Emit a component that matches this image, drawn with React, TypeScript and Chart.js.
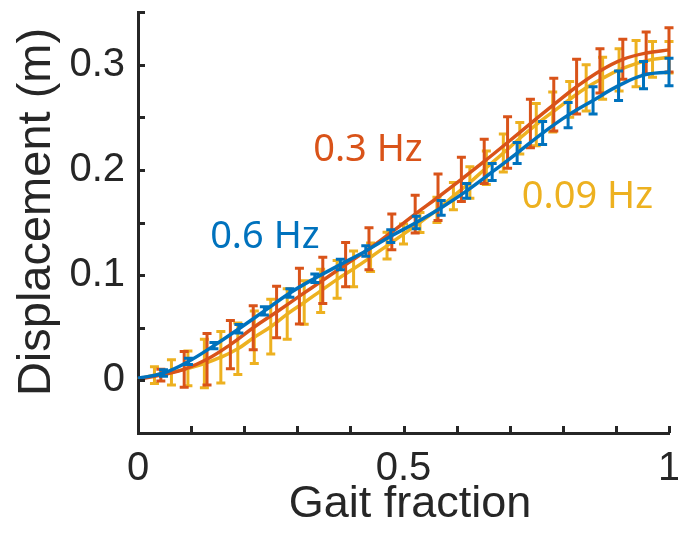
import React, { useEffect, useRef } from "react";
import { Chart, registerables } from "chart.js";

Chart.register(...registerables);

// ---- Data (gait fraction vs displacement, mean ± error) ----
const blueX = [0, 0.048, 0.095, 0.143, 0.19, 0.238, 0.286, 0.333, 0.381, 0.429, 0.476, 0.524, 0.571, 0.619, 0.667, 0.714, 0.762, 0.81, 0.857, 0.905, 0.952, 1.0];
const blueY = [0.002, 0.007, 0.018, 0.033, 0.049, 0.066, 0.083, 0.097, 0.11, 0.123, 0.137, 0.15, 0.164, 0.18, 0.198, 0.216, 0.235, 0.252, 0.266, 0.28, 0.29, 0.293];
const blueErr = [0, 0.003, 0.003, 0.003, 0.004, 0.004, 0.004, 0.004, 0.005, 0.005, 0.006, 0.006, 0.007, 0.007, 0.008, 0.01, 0.011, 0.012, 0.013, 0.014, 0.013, 0.013];

const redX = [0, 0.043, 0.087, 0.13, 0.174, 0.217, 0.261, 0.304, 0.348, 0.391, 0.435, 0.478, 0.522, 0.565, 0.609, 0.652, 0.696, 0.739, 0.783, 0.826, 0.87, 0.913, 0.957, 1.0];
const redY = [0.001, 0.005, 0.0105, 0.02, 0.034, 0.05, 0.065, 0.08, 0.095, 0.11, 0.125, 0.141, 0.158, 0.174, 0.191, 0.208, 0.226, 0.244, 0.262, 0.279, 0.294, 0.305, 0.311, 0.314];
const redErr = [0, 0.0055, 0.017, 0.0245, 0.023, 0.021, 0.0245, 0.0265, 0.022, 0.021, 0.02, 0.017, 0.018, 0.022, 0.021, 0.021, 0.0245, 0.023, 0.025, 0.026, 0.021, 0.019, 0.02, 0.021];

const yellowX = [0, 0.031, 0.063, 0.094, 0.125, 0.156, 0.188, 0.219, 0.25, 0.281, 0.313, 0.344, 0.375, 0.406, 0.438, 0.469, 0.5, 0.531, 0.563, 0.594, 0.625, 0.656, 0.688, 0.719, 0.75, 0.781, 0.813, 0.844, 0.875, 0.906, 0.938, 0.969, 1.0];
const yellowY = [0.001, 0.005, 0.0076, 0.0114, 0.016, 0.022, 0.03, 0.041, 0.051, 0.063, 0.074, 0.085, 0.096, 0.106, 0.117, 0.128, 0.139, 0.15, 0.162, 0.175, 0.188, 0.202, 0.216, 0.23, 0.243, 0.255, 0.267, 0.278, 0.287, 0.295, 0.301, 0.305, 0.307];
const yellowErr = [0, 0.008, 0.012, 0.0166, 0.023, 0.0245, 0.0245, 0.025, 0.026, 0.024, 0.0206, 0.0206, 0.018, 0.017, 0.0135, 0.0127, 0.0095, 0.0095, 0.012, 0.013, 0.015, 0.016, 0.018, 0.015, 0.02, 0.019, 0.017, 0.022, 0.02, 0.02, 0.022, 0.017, 0.015];

const seriesLabels = ["0.6 Hz", "0.3 Hz", "0.09 Hz"];
const seriesColors = ["#0072BD", "#D95319", "#EDB120"];
// label anchor positions in data coordinates [x, y]
const labelPos = [
  [0.239, 0.136],
  [0.433, 0.2185],
  [0.8465, 0.1745],
];

const xTickLabels: Record<string, string> = { "0": "0", "0.5": "0.5", "1": "1" };
const yTickLabels: Record<string, string> = { "0": "0", "0.1": "0.1", "0.2": "0.2", "0.3": "0.3" };
const xTitle = "Gait fraction";
const yTitle = "Displacement (m)";

const AXIS = "#262626";
const errs = [blueErr, redErr, yellowErr];

const errorBarPlugin = {
  id: "errorBars",
  afterDatasetDraw(chart: any, args: any) {
    const i = args.index;
    const ds = chart.data.datasets[i];
    const e = errs[i];
    const xs = chart.scales.x;
    const ys = chart.scales.y;
    const ctx = chart.ctx;
    ctx.save();
    ctx.strokeStyle = ds.borderColor;
    ctx.lineWidth = 3;
    ctx.lineCap = "butt";
    const cap = 4.5;
    ds.data.forEach((p: any, k: number) => {
      if (!e[k]) return;
      const px = xs.getPixelForValue(p.x);
      const y1 = ys.getPixelForValue(p.y + e[k]);
      const y2 = ys.getPixelForValue(p.y - e[k]);
      ctx.beginPath();
      ctx.moveTo(px, y1);
      ctx.lineTo(px, y2);
      ctx.moveTo(px - cap, y1);
      ctx.lineTo(px + cap, y1);
      ctx.moveTo(px - cap, y2);
      ctx.lineTo(px + cap, y2);
      ctx.stroke();
    });
    ctx.restore();
  },
};

const axesPlugin = {
  id: "inwardTicks",
  afterDraw(chart: any) {
    const ctx = chart.ctx;
    const xs = chart.scales.x;
    const ys = chart.scales.y;
    const { left, bottom } = chart.chartArea;
    const len = 7;
    ctx.save();
    ctx.strokeStyle = AXIS;
    ctx.lineWidth = 3;
    ys.ticks.forEach((t: any) => {
      const py = Math.round(ys.getPixelForValue(t.value)) + 0.5;
      ctx.beginPath();
      ctx.moveTo(left, py);
      ctx.lineTo(left + len, py);
      ctx.stroke();
    });
    xs.ticks.forEach((t: any) => {
      const px = Math.round(xs.getPixelForValue(t.value)) + 0.5;
      ctx.beginPath();
      ctx.moveTo(px, bottom);
      ctx.lineTo(px, bottom - len);
      ctx.stroke();
    });
    // axis titles
    ctx.fillStyle = AXIS;
    ctx.textAlign = "center";
    ctx.textBaseline = "middle";
    ctx.font = '45px "Liberation Sans"';
    ctx.fillText(xTitle, 410, 505);
    ctx.save();
    ctx.translate(37, 212);
    ctx.rotate(-Math.PI / 2);
    ctx.font = '47px "Liberation Sans"';
    ctx.fillText(yTitle, 0, 0);
    ctx.restore();
    // series labels
    ctx.font = '38px "Noto Sans"';
    seriesLabels.forEach((s, i) => {
      ctx.fillStyle = seriesColors[i];
      ctx.fillText(s, xs.getPixelForValue(labelPos[i][0]), ys.getPixelForValue(labelPos[i][1]));
    });
    ctx.restore();
  },
};

function fmt(v: number) {
  return String(Math.round(v * 100) / 100);
}

export default function App() {
  const ref = useRef<HTMLCanvasElement | null>(null);
  useEffect(() => {
    document.body.style.margin = "0";
    const canvas = ref.current!;
    const mk = (xs: number[], ys: number[]) => xs.map((x, i) => ({ x, y: ys[i] }));
    const chart = new Chart(canvas, {
      type: "scatter",
      data: {
        datasets: [
          { label: seriesLabels[0], data: mk(blueX, blueY), borderColor: seriesColors[0] },
          { label: seriesLabels[1], data: mk(redX, redY), borderColor: seriesColors[1] },
          { label: seriesLabels[2], data: mk(yellowX, yellowY), borderColor: seriesColors[2] },
        ].map((d) => ({
          ...d,
          showLine: true,
          borderWidth: 3.5,
          pointRadius: 0,
          pointHoverRadius: 0,
          fill: false,
          tension: 0.4,
          clip: false,
        })) as any,
      },
      options: {
        responsive: false,
        animation: false,
        events: [],
        layout: { padding: { left: 0, top: 12, right: 9, bottom: 0 } },
        plugins: { legend: { display: false }, tooltip: { enabled: false } },
        scales: {
          x: {
            type: "linear",
            min: 0,
            max: 1,
            grid: { display: false, drawTicks: false },
            border: { display: true, color: AXIS, width: 3 },
            ticks: {
              stepSize: 0.1,
              autoSkip: false,
              maxRotation: 0,
              padding: 12,
              color: AXIS,
              font: { family: "Liberation Sans", size: 40 },
              callback: (v: any) => xTickLabels[fmt(Number(v))] ?? "",
            },
            afterFit: (s: any) => {
              s.height = 105;
              s.paddingLeft = 0;
              s.paddingRight = 0;
            },
          },
          y: {
            type: "linear",
            min: -0.05,
            max: 0.35,
            grid: { display: false, drawTicks: false },
            border: { display: true, color: AXIS, width: 3 },
            ticks: {
              stepSize: 0.05,
              autoSkip: false,
              padding: 13,
              color: AXIS,
              font: { family: "Liberation Sans", size: 40 },
              callback: (v: any) => yTickLabels[fmt(Number(v))] ?? "",
            },
            afterFit: (s: any) => {
              s.width = 138;
              s.paddingTop = 0;
              s.paddingBottom = 0;
            },
          },
        },
      },
      plugins: [errorBarPlugin, axesPlugin],
    });
    return () => chart.destroy();
  }, []);
  return (
    <div style={{ width: 678, height: 538 }}>
      <canvas ref={ref} width={678} height={538} />
    </div>
  );
}
